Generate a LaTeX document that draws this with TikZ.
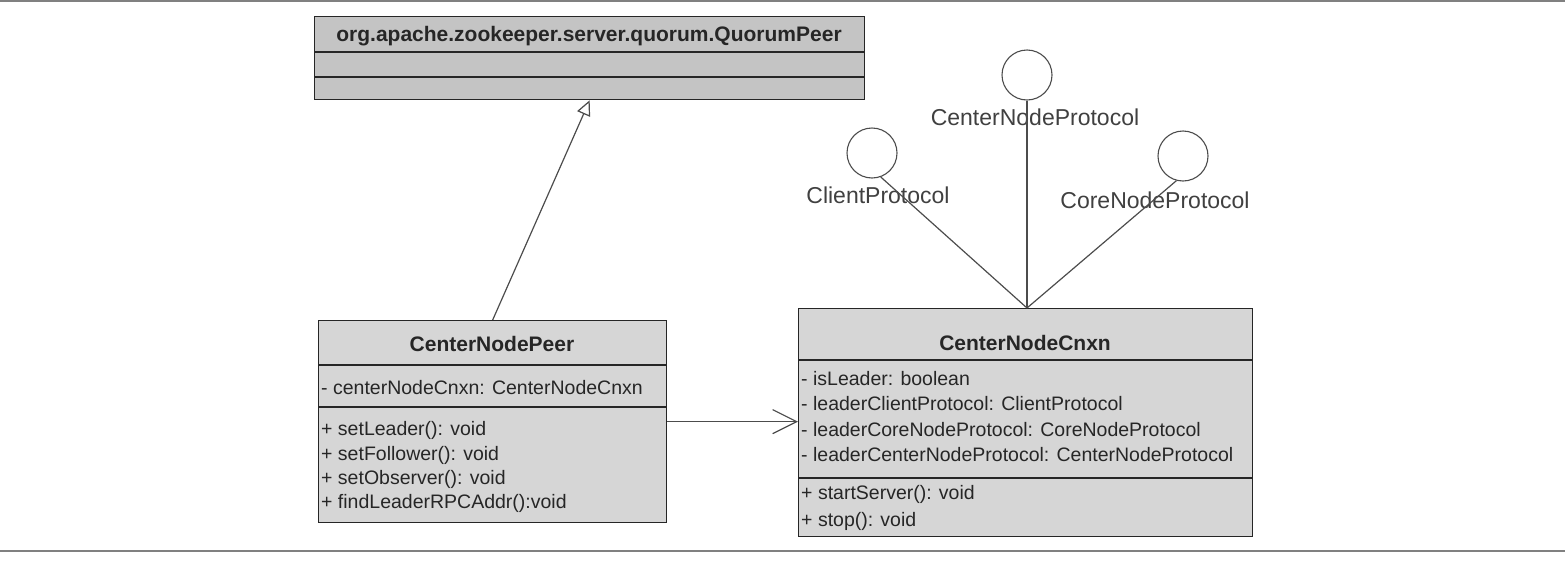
\documentclass[tikz,border=0pt]{standalone}
\usepackage{fontspec}
\setmainfont{Liberation Sans}
\usetikzlibrary{arrows.meta}

\definecolor{quorumfill}{HTML}{C4C4C4}
\definecolor{classfill}{HTML}{D6D6D6}

\begin{document}
\begin{tikzpicture}[x=1pt,y=-1pt]

    % Styles
    \tikzstyle{classbox}=[draw=black!85, line width=1.3pt, anchor=north west, inner sep=0pt]
    \tikzstyle{rule}=[draw=black!85, line width=1.3pt]
    \tikzstyle{head}=[anchor=base, inner sep=0pt, font=\fontsize{21}{24}\selectfont\bfseries, text=black!85]
    \tikzstyle{member}=[anchor=base west, inner sep=0pt, font=\fontsize{19.5}{22}\selectfont, text=black!85]
    \tikzstyle{iface}=[draw=black!70, circle, line width=1.1pt, minimum size=50pt, inner sep=0pt]
    \tikzstyle{ifacelabel}=[anchor=base, inner sep=0pt, font=\fontsize{23}{26}\selectfont, text=black!75]
    \tikzstyle{link}=[draw=black!70, line width=1.2pt]

    \useasboundingbox (0,0) rectangle (1565,560);

    % page rules
    \draw[gray, line width=1.2pt] (0,1) -- (1565,1);
    \draw[gray, line width=1.2pt] (0,551) -- (1565,551);

    % super class
    \node[classbox, fill=quorumfill, minimum width=550, minimum height=83] (quorum) at (314,16) {};
    \draw[rule] (quorum.west |- 0,52) -- (quorum.east |- 0,52);
    \draw[rule] (quorum.west |- 0,77) -- (quorum.east |- 0,77);
    \node[head] (quorumname) at (589,41) {org.apache.zookeeper.server.quorum.QuorumPeer};

    % peer class
    \node[classbox, fill=classfill, minimum width=348, minimum height=202] (peer) at (318,320) {};
    \draw[rule] (peer.west |- 0,365) -- (peer.east |- 0,365);
    \draw[rule] (peer.west |- 0,407) -- (peer.east |- 0,407);
    \node[head] (peername) at (492,351) {CenterNodePeer};
    \node[member] (peerattr) at (321,394) {- centerNodeCnxn: CenterNodeCnxn};
    \node[member] (peerlead) at (321,435) {+ setLeader(): void};
    \node[member] (peerfoll) at (321,460) {+ setFollower(): void};
    \node[member] (peerobs) at (321,484) {+ setObserver(): void};
    \node[member] (peerfind) at (321,508) {+ findLeaderRPCAddr():void};

    % connection class
    \node[classbox, fill=classfill, minimum width=454, minimum height=228] (cnxn) at (798,308) {};
    \draw[rule] (cnxn.west |- 0,360) -- (cnxn.east |- 0,360);
    \draw[rule] (cnxn.west |- 0,478) -- (cnxn.east |- 0,478);
    \node[head] (cnxnname) at (1025,350) {CenterNodeCnxn};
    \node[member] (cnxnlead) at (801,385) {- isLeader: boolean};
    \node[member] (cnxnclient) at (801,410) {- leaderClientProtocol: ClientProtocol};
    \node[member] (cnxncore) at (801,436) {- leaderCoreNodeProtocol: CoreNodeProtocol};
    \node[member] (cnxncenter) at (801,461) {- leaderCenterNodeProtocol: CenterNodeProtocol};
    \node[member] (cnxnstart) at (801,499) {+ startServer(): void};
    \node[member] (cnxnstop) at (801,526) {+ stop(): void};

    % provided interfaces
    \node[iface] (cnp) at (1027,75) {};
    \node[iface] (cp) at (872,153) {};
    \node[iface] (cop) at (1183,156) {};
    \node[ifacelabel] (cnplabel) at (1035,125) {CenterNodeProtocol};
    \node[ifacelabel] (cplabel) at (878,203) {ClientProtocol};
    \node[ifacelabel] (coplabel) at (1155,208) {CoreNodeProtocol};

    % lollipop stems
    \coordinate (hub) at (cnp.south |- cnxn.north);
    \draw[link] (cnp.south) -- (hub);
    \draw[link] (cp.-70) -- (hub);
    \draw[link] (cop.-105) -- (hub);

    % generalization
    \draw[link, -{Triangle[open, length=15pt, width=14pt, fill=white]}] (peer.north) -- (quorum.south);

    % association
    \draw[link, -{Straight Barb[length=24pt, width=24pt]}] (peer.east) -- (peer.east -| cnxn.west);

\end{tikzpicture}
\end{document}
